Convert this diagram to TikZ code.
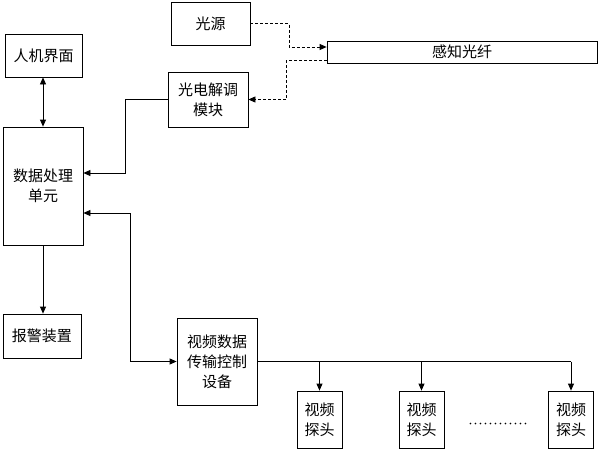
\documentclass[tikz,border=0pt]{standalone}
\usepackage{fontspec}
\setmainfont{Noto Sans CJK SC}
\usepackage{tikz}
\usetikzlibrary{arrows.meta, positioning}

\begin{document}
\begin{tikzpicture}[
			x=1pt, y=-1pt,
			line width=0.8pt,
			>={Triangle[length=7pt,width=6pt]},
			box/.style={rectangle, draw, inner sep=1pt, align=center, font=\fontsize{15}{20}\selectfont},
			fibre/.style={dash pattern=on 3pt off 2pt}
			]
			\useasboundingbox (0,0) rectangle (598,450);
			\node[box, minimum width=79pt, minimum height=43pt] (src) at (210.5,23.5) {光源};
			\node[box, minimum width=270pt, minimum height=22pt] (fiber) at (462,52) {感知光纤};
			\node[box, minimum width=80pt, minimum height=55pt] (demod) at (208,99.5) {光电解调\\模块};
			\node[box, minimum width=77pt, minimum height=43pt] (hmi) at (43.5,55.5) {人机界面};
			\node[box, minimum width=80pt, minimum height=118pt] (dpu) at (43,186) {数据处理\\单元};
			\node[box, minimum width=78pt, minimum height=44pt] (alarm) at (42,336) {报警装置};
			\node[box, minimum width=80pt, minimum height=87pt] (vctrl) at (217,361.5) {视频数据\\传输控制\\设备};
			\node[box, minimum width=45pt, minimum height=57pt] (cam1) at (319.5,419.5) {视频\\探头};
			\node[box, minimum width=45pt, minimum height=57pt] (cam2) at (421.5,419.5) {视频\\探头};
			\node[box, minimum width=45pt, minimum height=57pt] (cam3) at (571,419.5) {视频\\探头};
			\draw[fibre, ->] (src.east) -- ++(39,0) |- ([yshift=5pt]fiber.west);
			\draw[fibre, ->] ([yshift=-8pt]fiber.west) -- ++(-40,0) |- (demod.east);
			\draw[->] (demod.west) -- ++(-42,0) |- ([yshift=13pt]dpu.east);
			\draw[<->] (hmi.south -| dpu.north) -- (dpu.north);
			\draw[->] (dpu.south) -- (dpu.south |- alarm.north);
			\draw[<->] ([yshift=-27pt]dpu.east) -- ++(47,0) |- (vctrl.west);
			\draw (vctrl.east) -- (vctrl.east -| cam3.north);
			\foreach \c in {cam1, cam2, cam3}
				\draw[->] (vctrl.east -| \c.north) -- (\c.north);
			\draw[line width=1.8pt, line cap=round, dash pattern=on 0pt off 5pt] ([xshift=26pt,yshift=-4pt]cam2.east) -- ([xshift=-18pt,yshift=-4pt]cam3.west);
		\end{tikzpicture}
\end{document}
